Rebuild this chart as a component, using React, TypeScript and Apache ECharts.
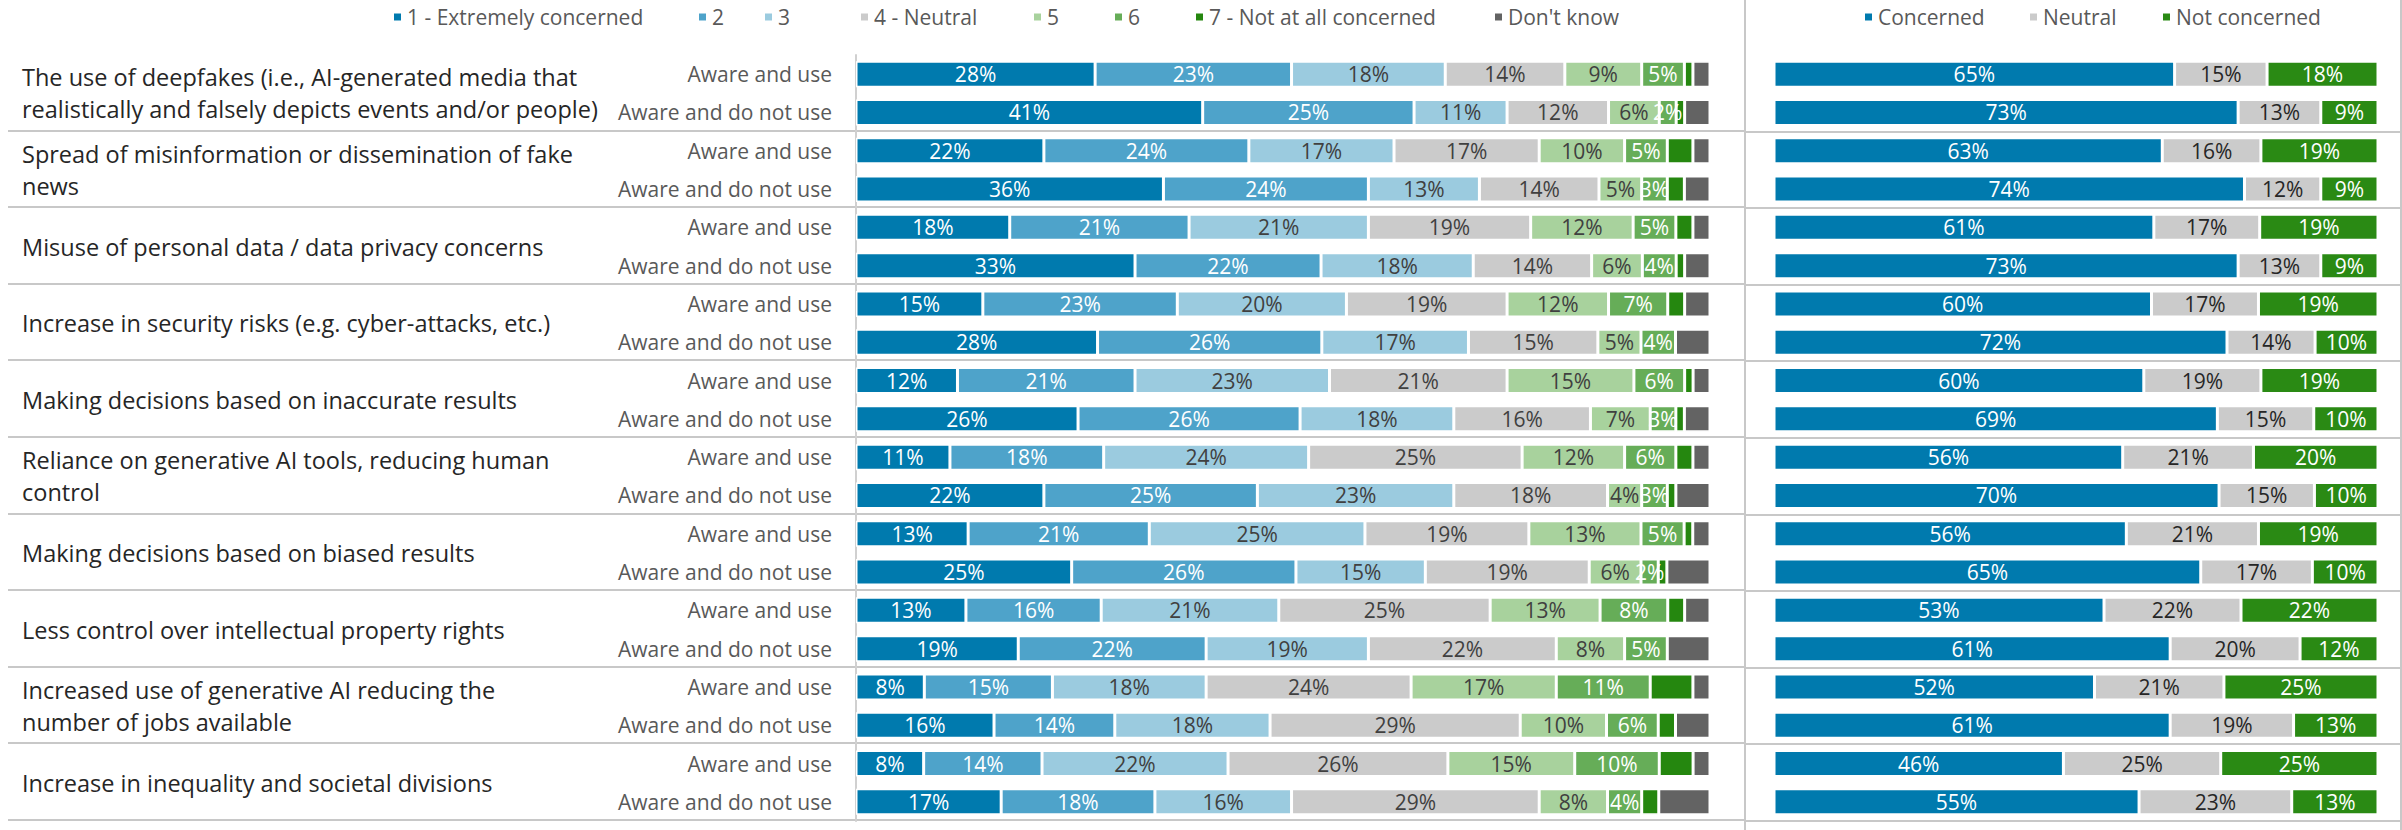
import React, { useEffect, useRef } from "react";
import * as echarts from "echarts";

const groupLabels = [
  "The use of deepfakes (i.e., AI-generated media that\nrealistically and falsely depicts events and/or people)",
  "Spread of misinformation or dissemination of fake\nnews",
  "Misuse of personal data / data privacy concerns",
  "Increase in security risks (e.g. cyber-attacks, etc.)",
  "Making decisions based on inaccurate results",
  "Reliance on generative AI tools, reducing human\ncontrol",
  "Making decisions based on biased results",
  "Less control over intellectual property rights",
  "Increased use of generative AI reducing the\nnumber of jobs available",
  "Increase in inequality and societal divisions",
];

const rowLabels = groupLabels.flatMap(() => ["Aware and use", "Aware and do not use"]);

const leftNames = [
  "1 - Extremely concerned",
  "2",
  "3",
  "4 - Neutral",
  "5",
  "6",
  "7 - Not at all concerned",
  "Don't know",
];

const s1 = [28, 41, 22, 36, 18, 33, 15, 28, 12, 26, 11, 22, 13, 25, 13, 19, 8, 16, 8, 17];
const s2 = [23, 25, 24, 24, 21, 22, 23, 26, 21, 26, 18, 25, 21, 26, 16, 22, 15, 14, 14, 18];
const s3 = [18, 11, 17, 13, 21, 18, 20, 17, 23, 18, 24, 23, 25, 15, 21, 19, 18, 18, 22, 16];
const s4 = [14, 12, 17, 14, 19, 14, 19, 15, 21, 16, 25, 18, 19, 19, 25, 22, 24, 29, 26, 29];
const s5 = [9, 6, 10, 5, 12, 6, 12, 5, 15, 7, 12, 4, 13, 6, 13, 8, 17, 10, 15, 8];
const s6 = [5, 2, 5, 3, 5, 4, 7, 4, 6, 3, 6, 3, 5, 2, 8, 5, 11, 6, 10, 4];
const s7 = [1, 1, 3, 2, 2, 1, 2, 0, 1, 1, 2, 1, 1, 1, 2, 0, 5, 2, 4, 2];
const dontKnow = [2, 3, 2, 3, 2, 3, 3, 4, 2, 3, 2, 4, 2, 5, 3, 5, 2, 4, 2, 6];

const rightNames = ["Concerned", "Neutral", "Not concerned"];
const concerned = [65, 73, 63, 74, 61, 73, 60, 72, 60, 69, 56, 70, 56, 65, 53, 61, 52, 61, 46, 55];
const neutral = [15, 13, 16, 12, 17, 13, 17, 14, 19, 15, 21, 15, 21, 17, 22, 20, 21, 19, 25, 23];
const notConcerned = [18, 9, 19, 9, 19, 9, 19, 10, 19, 10, 20, 10, 19, 10, 22, 12, 25, 13, 25, 13];

const leftSeries = [s1, s2, s3, s4, s5, s6, s7, dontKnow];
const rightSeries = [concerned, neutral, notConcerned];

const leftColors = ["#007AAE", "#4EA3CA", "#9BCBDF", "#CBCBCB", "#A8D29D", "#66AD58", "#25870F", "#636363"];
const leftLabelColors = ["#ffffff", "#ffffff", "#404040", "#404040", "#404040", "#ffffff", null, null];
const rightColors = ["#007AAE", "#CBCBCB", "#2A8A14"];
const rightLabelColors = ["#ffffff", "#262626", "#ffffff"];

const leftLegendX = [392, 697, 763, 859, 1032, 1113, 1194, 1493];
const rightLegendX = [1863, 2028, 2161];

const FONT = "'Open Sans', 'Liberation Sans', sans-serif";

export default function App() {
  const ref = useRef<HTMLDivElement>(null);

  useEffect(() => {
    if (!ref.current) return;
    const chart = echarts.init(ref.current, null, { renderer: "svg" });

    const gridTop = 55;
    const gridH = 766;
    const rowH = gridH / rowLabels.length;

    const leftTotals = rowLabels.map((_, i) => leftSeries.reduce((a, s) => a + s[i], 0));
    const rightTotals = rowLabels.map((_, i) => rightSeries.reduce((a, s) => a + s[i], 0));

    const barBase = {
      type: "bar" as const,
      barWidth: 26,
      itemStyle: { borderColor: "#ffffff", borderWidth: 1.5 },
    };

    const series: any[] = [];
    leftSeries.forEach((arr, si) => {
      series.push({
        ...barBase,
        name: leftNames[si],
        stack: "left",
        xAxisIndex: 0,
        yAxisIndex: 0,
        itemStyle: { ...barBase.itemStyle, color: leftColors[si] },
        label: {
          show: leftLabelColors[si] !== null,
          position: "inside",
          color: leftLabelColors[si] || "#000",
          fontSize: 21,
          fontFamily: FONT,
          formatter: (p: any) => `${arr[p.dataIndex]}%`,
        },
        data: arr.map((v, i) => (v / leftTotals[i]) * 100),
      });
    });
    rightSeries.forEach((arr, si) => {
      series.push({
        ...barBase,
        name: rightNames[si],
        stack: "right",
        xAxisIndex: 1,
        yAxisIndex: 2,
        itemStyle: { ...barBase.itemStyle, color: rightColors[si] },
        label: {
          show: true,
          position: "inside",
          color: rightLabelColors[si],
          fontSize: 21,
          fontFamily: FONT,
          formatter: (p: any) => `${arr[p.dataIndex]}%`,
        },
        data: arr.map((v, i) => (v / rightTotals[i]) * 100),
      });
    });

    const graphic: any[] = [];
    const lineStyle = { stroke: "#C8C8C8", lineWidth: 2 };
    for (let k = 1; k <= groupLabels.length; k++) {
      const y = Math.round(gridTop + k * 2 * rowH) - 1;
      graphic.push({ type: "line", shape: { x1: 8, y1: y, x2: 1745, y2: y }, style: lineStyle, silent: true });
      graphic.push({ type: "line", shape: { x1: 1745, y1: y + 1, x2: 2402, y2: y + 1 }, style: lineStyle, silent: true });
    }
    graphic.push({ type: "line", shape: { x1: 1745, y1: 0, x2: 1745, y2: 830 }, style: lineStyle, silent: true });
    graphic.push({ type: "line", shape: { x1: 2401, y1: 0, x2: 2401, y2: 830 }, style: lineStyle, silent: true });

    const legendBase = {
      top: 1,
      icon: "rect",
      itemWidth: 9,
      itemHeight: 9,
      itemGap: 0,
      padding: 0,
      textStyle: { color: "#595959", fontSize: 21, fontFamily: FONT, lineHeight: 32 },
      selectedMode: false,
    };
    const legends = [
      ...leftNames.map((n, i) => ({ ...legendBase, data: [n], left: leftLegendX[i] })),
      ...rightNames.map((n, i) => ({ ...legendBase, data: [n], left: rightLegendX[i] })),
    ];

    chart.setOption({
      animation: false,
      backgroundColor: "#ffffff",
      textStyle: { fontFamily: FONT },
      legend: legends,
      grid: [
        { left: 856, top: gridTop, width: 854, height: gridH, containLabel: false },
        { left: 1774, top: gridTop, width: 604, height: gridH, containLabel: false },
      ],
      xAxis: [
        { type: "value", gridIndex: 0, min: 0, max: 100, show: false },
        { type: "value", gridIndex: 1, min: 0, max: 100, show: false },
      ],
      yAxis: [
        {
          type: "category",
          gridIndex: 0,
          position: "left",
          inverse: true,
          data: rowLabels,
          axisLine: { show: true, lineStyle: { color: "#D0D0D0", width: 2 } },
          axisTick: { show: false },
          axisLabel: { interval: 0, margin: 24, color: "#595959", fontSize: 21, fontFamily: FONT },
        },
        {
          type: "category",
          gridIndex: 0,
          position: "left",
          offset: 0,
          inverse: true,
          data: groupLabels,
          axisLine: { show: false },
          axisTick: { show: false },
          axisLabel: {
            interval: 0,
            margin: 834,
            align: "left",
            color: "#262626",
            fontSize: 23.5,
            lineHeight: 32,
            fontFamily: FONT,
          },
        },
        {
          type: "category",
          gridIndex: 1,
          inverse: true,
          data: rowLabels,
          show: false,
        },
      ],
      graphic,
      series,
    });

    return () => chart.dispose();
  }, []);

  return (
    <div
      ref={ref}
      style={{ position: "absolute", left: 0, top: 0, width: 2402, height: 830, background: "#fff" }}
    />
  );
}
